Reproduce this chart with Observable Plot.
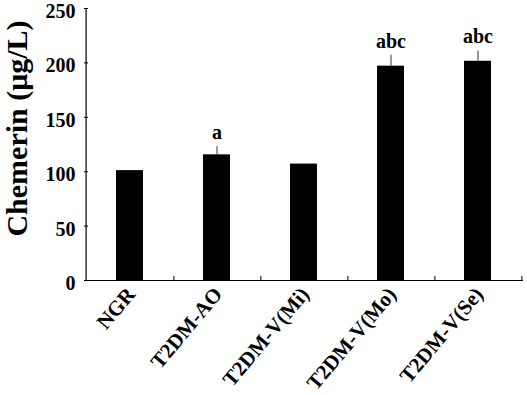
<!DOCTYPE html>
<html>
<head>
<meta charset="utf-8">
<script src="https://cdn.jsdelivr.net/npm/d3@7"></script>
<script src="https://cdn.jsdelivr.net/npm/@observablehq/plot@0.6"></script>
<style>
  html, body { margin: 0; padding: 0; background: #fff; }
  #chart svg { display: block; }
</style>
</head>
<body>
<div id="chart"></div>
<script>
const groups = ["NGR", "T2DM-AO", "T2DM-V(Mi)", "T2DM-V(Mo)", "T2DM-V(Se)"];
const means = [101, 115.5, 107, 197, 201.5];
const errors = [0, 7.5, 0, 10, 9.5];
const sigLabels = ["", "a", "", "abc", "abc"];
const yTicks = [0, 50, 100, 150, 200, 250];
const yLabel = "Chemerin (\u03bcg/L)";

const data = groups.map((g, i) => ({group: g, mean: means[i], err: errors[i], sig: sigLabels[i], top: means[i] + errors[i]}));
const withErr = data.filter(d => d.err > 0);

const font = "'Liberation Serif', 'Times New Roman', serif";

const chart = Plot.plot({
  width: 527,
  height: 395,
  marginLeft: 84,
  marginRight: 4,
  marginTop: 8,
  marginBottom: 115,
  style: {background: "#fff", fontFamily: font, fontWeight: "bold", color: "#000"},
  x: {domain: groups, paddingInner: 0.69, paddingOuter: 0.345, axis: null},
  y: {domain: [0, 250], axis: null},
  marks: [
    Plot.barY(data, {x: "group", y: "mean", fill: "#000"}),
    Plot.ruleX(withErr, {x: "group", y1: "mean", y2: "top", stroke: "#333", strokeWidth: 1}),
    Plot.text(withErr, {x: "group", y: "top", text: "sig", dy: -14, fontSize: 20, fontWeight: "bold", fill: "#000"}),
    // axes lines
    Plot.ruleY([0], {stroke: "#000", strokeWidth: 1.2}),
    Plot.ruleX([groups[0]], {y1: 0, y2: 250, dx: -43.9, stroke: "#000", strokeWidth: 1.2}),
    // x ticks at band boundaries (inward)
    Plot.ruleX(groups, {y1: 0, y2: 3.7, dx: 43.9, stroke: "#000", strokeWidth: 1}),
    // y ticks inward
    Plot.axisY({ticks: yTicks, tickSize: 4, dx: 4, tickFormat: () => "", label: null}),
    Plot.axisY({ticks: yTicks, tickSize: 0, tickPadding: 9, dy: 3, fontSize: 20, fontWeight: "bold", fill: "#000", label: null}),
    Plot.axisX({tickSize: 0, tickPadding: 10, tickRotate: -50, dx: 1, fontSize: 21, fontWeight: "bold", fill: "#000", label: null}),
    Plot.text([yLabel], {frameAnchor: "left", textAnchor: "middle", rotate: -90, dx: -67, dy: -16, fontSize: 30, fontWeight: "bold", fill: "#000"})
  ]
});
document.getElementById("chart").appendChild(chart);
</script>
</body>
</html>
